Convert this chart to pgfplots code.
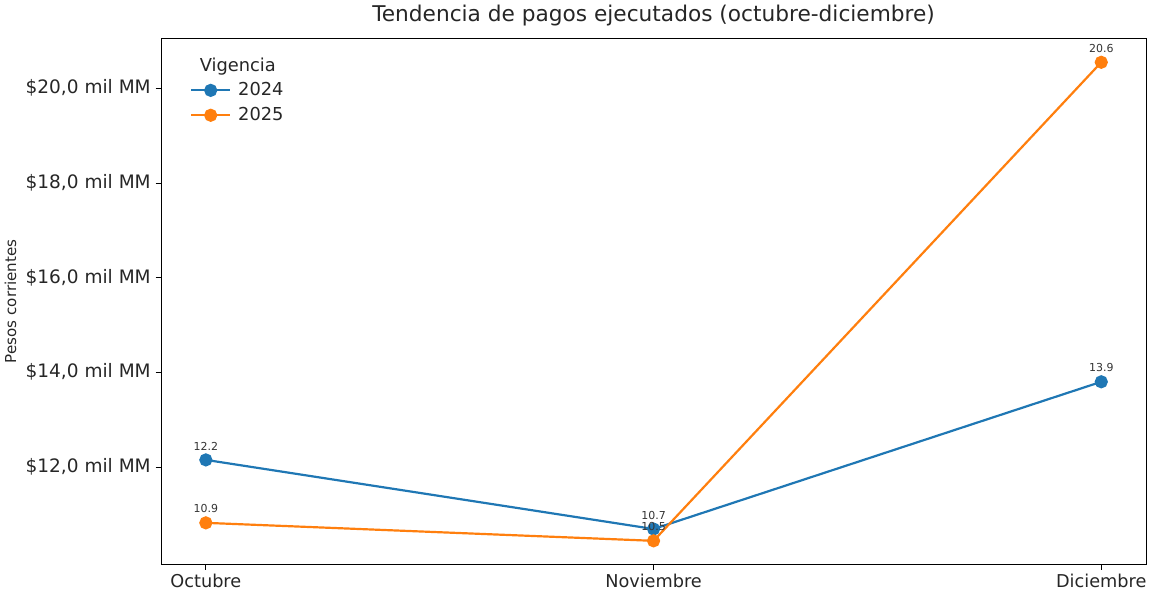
\documentclass[border=0pt]{standalone}
\usepackage{pgfplots}
\pgfplotsset{compat=1.18}
\usepackage{fontspec}
\setmainfont{DejaVu Sans}
\definecolor{c24}{HTML}{1F77B4}
\definecolor{c25}{HTML}{FF7F0E}
\begin{document}
\begin{tikzpicture}
\begin{axis}[
    scale only axis,
    width=718pt, height=383pt,
    xmin=-0.1, xmax=2.1,
    ymin=9.95, ymax=21.05,
    xtick={0,1,2},
    xticklabels={Octubre,Noviembre,Diciembre},
    ytick={12,14,16,18,20},
    yticklabels={{\$12,0 mil MM},{\$14,0 mil MM},{\$16,0 mil MM},{\$18,0 mil MM},{\$20,0 mil MM}},
    tick align=outside, tick pos=left,
    major tick length=4pt,
    tick style={black, line width=0.6pt},
    axis line style={line width=0.6pt},
    yticklabel style={font=\fontsize{13.5}{16}\selectfont, text=black!85},
    xticklabel style={font=\fontsize{12.9}{15}\selectfont, text=black!85},
    ylabel={Pesos corrientes},
    ylabel style={font=\fontsize{11}{13}\selectfont, text=black!85},
    title={Tendencia de pagos ejecutados (octubre-diciembre)},
    title style={font=\fontsize{15.8}{18}\selectfont, text=black!85},
    point meta=explicit symbolic,
    nodes near coords,
    every node near coord/.append style={font=\fontsize{8}{9}\selectfont, text=black!80, yshift=3pt},
    legend cell align=left,
    legend style={at={(0.025,0.975)}, anchor=north west, draw=none, fill=none,
        font=\fontsize{13}{15}\selectfont, text=black!85, row sep=3pt,
        nodes={inner xsep=5pt}},
    legend image code/.code={\draw[mark repeat=2,mark phase=2,#1] plot coordinates {(0cm,0cm)(0.5cm,0cm)(1.0cm,0cm)};},
]
\addlegendimage{empty legend}
\addlegendentry{\hspace*{-28pt}Vigencia}

\addplot[color=c24, line width=1.6pt, mark=*, mark size=4pt, mark options={fill=c24, draw=c24}]
    table[meta=lab] {
x y lab
0 12.15 12.2
1 10.69 10.7
2 13.80 13.9
};
\addlegendentry{2024}

\addplot[color=c25, line width=1.6pt, mark=*, mark size=4pt, mark options={fill=c25, draw=c25}]
    table[meta=lab] {
x y lab
0 10.82 10.9
1 10.44 10.5
2 20.55 20.6
};
\addlegendentry{2025}

\end{axis}
\end{tikzpicture}
\end{document}
